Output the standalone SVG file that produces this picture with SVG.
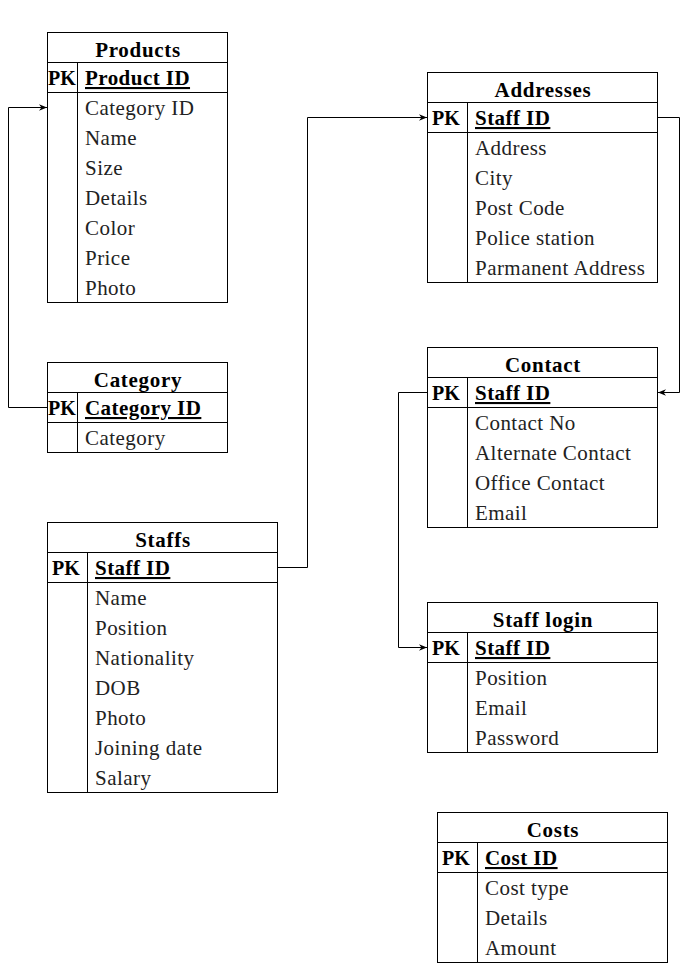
<svg xmlns="http://www.w3.org/2000/svg" width="686" height="963" viewBox="0 0 686 963">
<defs>
<style>
.box{fill:#fff;stroke:#000;stroke-width:1}
.ln{stroke:#000;stroke-width:1;fill:none}
text{font-family:"Liberation Serif","Times New Roman",serif;font-size:21px;fill:#000;letter-spacing:0.45px}
.t{font-weight:bold;text-anchor:middle;letter-spacing:0.7px}
.pk{font-weight:bold;font-size:20px;letter-spacing:0}
.key{font-weight:bold;text-decoration:underline}
.f{fill:#222}
</style>
<marker id="arr" viewBox="0 0 10 10" refX="10" refY="5" markerWidth="8" markerHeight="8" markerUnits="userSpaceOnUse" orient="auto">
<path d="M0,1 L10,5 L0,9 L3,5 Z" fill="#000"/>
</marker>
</defs>
<rect width="686" height="963" fill="#fff"/>
<g id="connectors">
<polyline class="ln" points="47.5,407.5 8.5,407.5 8.5,107.5 47,107.5" marker-end="url(#arr)"/>
<polyline class="ln" points="277.5,567.5 307.5,567.5 307.5,117.5 427,117.5" marker-end="url(#arr)"/>
<polyline class="ln" points="657.5,117.5 679.5,117.5 679.5,392.5 658,392.5" marker-end="url(#arr)"/>
<polyline class="ln" points="427.5,392.5 398.5,392.5 398.5,647.5 427,647.5" marker-end="url(#arr)"/>
</g>
<g id="products">
<rect class="box" x="47.5" y="32.5" width="180" height="270"/>
<line class="ln" x1="47.5" y1="62.5" x2="227.5" y2="62.5"/>
<line class="ln" x1="47.5" y1="92.5" x2="227.5" y2="92.5"/>
<line class="ln" x1="77.5" y1="62.5" x2="77.5" y2="302.5"/>
<text class="t" x="138" y="57">Products</text>
<text class="pk" x="48" y="85">PK</text>
<text class="key" x="85" y="85">Product ID</text>
<text class="f" x="85" y="115">Category ID</text>
<text class="f" x="85" y="145">Name</text>
<text class="f" x="85" y="175">Size</text>
<text class="f" x="85" y="205">Details</text>
<text class="f" x="85" y="235">Color</text>
<text class="f" x="85" y="265">Price</text>
<text class="f" x="85" y="295">Photo</text>
</g>
<g id="category">
<rect class="box" x="47.5" y="362.5" width="180" height="90"/>
<line class="ln" x1="47.5" y1="392.5" x2="227.5" y2="392.5"/>
<line class="ln" x1="47.5" y1="422.5" x2="227.5" y2="422.5"/>
<line class="ln" x1="77.5" y1="392.5" x2="77.5" y2="452.5"/>
<text class="t" x="138" y="387">Category</text>
<text class="pk" x="48" y="415">PK</text>
<text class="key" x="85" y="415">Category ID</text>
<text class="f" x="85" y="445">Category</text>
</g>
<g id="staffs">
<rect class="box" x="47.5" y="522.5" width="230" height="270"/>
<line class="ln" x1="47.5" y1="552.5" x2="277.5" y2="552.5"/>
<line class="ln" x1="47.5" y1="582.5" x2="277.5" y2="582.5"/>
<line class="ln" x1="87.5" y1="552.5" x2="87.5" y2="792.5"/>
<text class="t" x="163" y="547">Staffs</text>
<text class="pk" x="52" y="575">PK</text>
<text class="key" x="95" y="575">Staff ID</text>
<text class="f" x="95" y="605">Name</text>
<text class="f" x="95" y="635">Position</text>
<text class="f" x="95" y="665">Nationality</text>
<text class="f" x="95" y="695">DOB</text>
<text class="f" x="95" y="725">Photo</text>
<text class="f" x="95" y="755">Joining date</text>
<text class="f" x="95" y="785">Salary</text>
</g>
<g id="addresses">
<rect class="box" x="427.5" y="72.5" width="230" height="210"/>
<line class="ln" x1="427.5" y1="102.5" x2="657.5" y2="102.5"/>
<line class="ln" x1="427.5" y1="132.5" x2="657.5" y2="132.5"/>
<line class="ln" x1="467.5" y1="102.5" x2="467.5" y2="282.5"/>
<text class="t" x="543" y="97">Addresses</text>
<text class="pk" x="432" y="125">PK</text>
<text class="key" x="475" y="125">Staff ID</text>
<text class="f" x="475" y="155">Address</text>
<text class="f" x="475" y="185">City</text>
<text class="f" x="475" y="215">Post Code</text>
<text class="f" x="475" y="245">Police station</text>
<text class="f" x="475" y="275">Parmanent Address</text>
</g>
<g id="contact">
<rect class="box" x="427.5" y="347.5" width="230" height="180"/>
<line class="ln" x1="427.5" y1="377.5" x2="657.5" y2="377.5"/>
<line class="ln" x1="427.5" y1="407.5" x2="657.5" y2="407.5"/>
<line class="ln" x1="467.5" y1="377.5" x2="467.5" y2="527.5"/>
<text class="t" x="543" y="372">Contact</text>
<text class="pk" x="432" y="400">PK</text>
<text class="key" x="475" y="400">Staff ID</text>
<text class="f" x="475" y="430">Contact No</text>
<text class="f" x="475" y="460">Alternate Contact</text>
<text class="f" x="475" y="490">Office Contact</text>
<text class="f" x="475" y="520">Email</text>
</g>
<g id="stafflogin">
<rect class="box" x="427.5" y="602.5" width="230" height="150"/>
<line class="ln" x1="427.5" y1="632.5" x2="657.5" y2="632.5"/>
<line class="ln" x1="427.5" y1="662.5" x2="657.5" y2="662.5"/>
<line class="ln" x1="467.5" y1="632.5" x2="467.5" y2="752.5"/>
<text class="t" x="543" y="627">Staff login</text>
<text class="pk" x="432" y="655">PK</text>
<text class="key" x="475" y="655">Staff ID</text>
<text class="f" x="475" y="685">Position</text>
<text class="f" x="475" y="715">Email</text>
<text class="f" x="475" y="745">Password</text>
</g>
<g id="costs">
<rect class="box" x="437.5" y="812.5" width="230" height="150"/>
<line class="ln" x1="437.5" y1="842.5" x2="667.5" y2="842.5"/>
<line class="ln" x1="437.5" y1="872.5" x2="667.5" y2="872.5"/>
<line class="ln" x1="477.5" y1="842.5" x2="477.5" y2="962.5"/>
<text class="t" x="553" y="837">Costs</text>
<text class="pk" x="442" y="865">PK</text>
<text class="key" x="485" y="865">Cost ID</text>
<text class="f" x="485" y="895">Cost type</text>
<text class="f" x="485" y="925">Details</text>
<text class="f" x="485" y="955">Amount</text>
</g>
</svg>
